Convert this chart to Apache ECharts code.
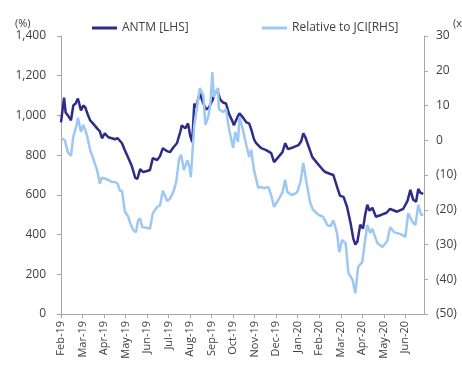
<!DOCTYPE html>
<html><head><meta charset="utf-8">
<script src="https://cdn.jsdelivr.net/npm/echarts@6/dist/echarts.min.js"></script>
<style>html,body{margin:0;padding:0;background:#fff}#c{width:462px;height:365px}</style>
</head><body><div id="c"></div>
<script>
const monthLabels = ['Feb-19','Mar-19','Apr-19','May-19','Jun-19','Jul-19','Aug-19','Sep-19','Oct-19','Nov-19','Dec-19','Jan-20','Feb-20','Mar-20','Apr-20','May-20','Jun-20'];
const axisStartDate = '2019-02-01';
const axisEndDate = '2020-06-27';
const leftAxisTicks = {min:0, max:1400, step:200};
const rightAxisTicks = {min:-50, max:30, step:10};

const antmDates = ['2019-02-01','2019-02-05','2019-02-07','2019-02-10','2019-02-14','2019-02-17','2019-02-20','2019-02-23','2019-02-27',
'2019-03-02','2019-03-05','2019-03-08','2019-03-12','2019-03-16','2019-03-22','2019-03-26','2019-03-29',
'2019-04-02','2019-04-07','2019-04-12','2019-04-16','2019-04-20','2019-04-26','2019-04-30',
'2019-05-05','2019-05-10','2019-05-15','2019-05-18','2019-05-22','2019-05-26',
'2019-06-01','2019-06-05','2019-06-09','2019-06-15','2019-06-19','2019-06-23','2019-06-29',
'2019-07-03','2019-07-08','2019-07-13','2019-07-18','2019-07-20','2019-07-25','2019-07-29',
'2019-08-01','2019-08-04','2019-08-07','2019-08-10','2019-08-13','2019-08-15','2019-08-20','2019-08-24','2019-08-28',
'2019-09-02','2019-09-06','2019-09-10','2019-09-13','2019-09-17','2019-09-21','2019-09-25','2019-09-30',
'2019-10-02','2019-10-07','2019-10-10','2019-10-15','2019-10-20','2019-10-24','2019-10-27','2019-10-31',
'2019-11-03','2019-11-10','2019-11-17','2019-11-24','2019-11-28',
'2019-12-04','2019-12-10','2019-12-14','2019-12-18','2019-12-26',
'2020-01-02','2020-01-06','2020-01-09','2020-01-12','2020-01-15','2020-01-19','2020-01-22','2020-01-29',
'2020-02-05','2020-02-09','2020-02-16','2020-02-20','2020-02-25','2020-02-29',
'2020-03-05','2020-03-10','2020-03-15','2020-03-19','2020-03-22','2020-03-25','2020-03-29',
'2020-04-02','2020-04-05','2020-04-08','2020-04-11','2020-04-15','2020-04-20','2020-04-28',
'2020-05-05','2020-05-10','2020-05-13','2020-05-20','2020-05-29',
'2020-06-04','2020-06-08','2020-06-12','2020-06-16','2020-06-19','2020-06-22','2020-06-26'];
const antmValues = [965,1090,1015,1000,975,1050,1060,1085,1025,
1050,1040,1010,975,960,935,920,885,
910,890,885,880,885,860,825,
785,745,685,680,730,715,
720,725,785,775,795,835,820,
815,840,860,920,950,935,960,
900,865,1060,1040,1090,1110,1060,1030,1040,
1075,1120,1115,1080,1065,1060,1010,970,
950,990,1010,990,965,960,930,880,
860,835,825,810,765,
790,815,860,830,840,
850,870,910,890,860,820,790,760,
730,715,705,700,640,595,
590,540,460,380,350,365,450,
430,500,550,520,535,490,500,
510,530,525,515,530,
570,625,575,565,630,610,605];

const jciDates = ['2019-02-01','2019-02-06','2019-02-10','2019-02-14','2019-02-17','2019-02-22','2019-02-23','2019-02-27',
'2019-03-02','2019-03-05','2019-03-08','2019-03-12','2019-03-16','2019-03-22','2019-03-26','2019-03-29',
'2019-04-02','2019-04-07','2019-04-12','2019-04-16','2019-04-20','2019-04-23','2019-04-26','2019-04-30',
'2019-05-05','2019-05-07','2019-05-12','2019-05-16','2019-05-19','2019-05-22','2019-05-25',
'2019-06-01','2019-06-05','2019-06-09','2019-06-15','2019-06-19','2019-06-23','2019-06-29',
'2019-07-03','2019-07-08','2019-07-12','2019-07-16','2019-07-19','2019-07-23','2019-07-28','2019-07-31',
'2019-08-02','2019-08-07','2019-08-11','2019-08-15','2019-08-20','2019-08-23','2019-08-27','2019-08-30',
'2019-09-02','2019-09-04','2019-09-07','2019-09-10','2019-09-11','2019-09-17','2019-09-21','2019-09-25',
'2019-10-01','2019-10-04','2019-10-08','2019-10-10','2019-10-15','2019-10-20','2019-10-24','2019-10-27','2019-10-31',
'2019-11-06','2019-11-10','2019-11-14','2019-11-20','2019-11-24','2019-11-28',
'2019-12-04','2019-12-10','2019-12-14','2019-12-17','2019-12-24','2019-12-31',
'2020-01-05','2020-01-09','2020-01-13','2020-01-19','2020-01-23','2020-01-31',
'2020-02-06','2020-02-12','2020-02-16','2020-02-20','2020-02-25','2020-02-28',
'2020-03-03','2020-03-08','2020-03-12','2020-03-18','2020-03-22','2020-03-26',
'2020-04-01','2020-04-05','2020-04-08','2020-04-12','2020-04-15','2020-04-22','2020-04-29',
'2020-05-06','2020-05-10','2020-05-16','2020-05-25',
'2020-06-01','2020-06-05','2020-06-11','2020-06-15','2020-06-19','2020-06-23','2020-06-26'];
const jciValues = [0.6,0,-3.5,-4.5,1,5,6.5,2.4,
4.4,3,0.9,-2.8,-5,-8.6,-12.5,-10.8,
-11,-11.4,-12,-12,-12.5,-14.5,-14.5,-20.5,
-22,-23.5,-25.8,-26.5,-23,-22.5,-25,
-25.2,-25.5,-21,-19.2,-18.8,-14.5,-17.5,
-16.8,-14.8,-12,-5.5,-4.2,-8.6,-5.7,-7.7,
-10.6,4.4,9.6,15,13,4.4,6.7,10,
19.6,12.4,14,15,9,8.1,9,3.5,
-2.2,2.4,-0.5,6.7,3,-1.4,-4.8,-2.8,-8.6,
-13.7,-13.4,-13.8,-13.4,-15.8,-19.2,
-17.2,-15,-11.4,-14.9,-15.8,-15,
-12,-6.5,-11.4,-18,-20,-21.5,
-22,-24.4,-24.8,-23,-26.7,-32.2,
-28.7,-29.6,-38.2,-40.2,-44,-36.5,
-35,-28.7,-24.4,-26.7,-25.5,-29.6,-30.7,
-29,-25,-26.5,-27,
-27.8,-21,-23.5,-24.4,-18.6,-21.5,-21.3];

function monthPos(s){
  const p = s.split('-').map(Number);
  const b = axisStartDate.split('-').map(Number);
  const dim = new Date(p[0], p[1], 0).getDate();
  return (p[0]-b[0])*12 + (p[1]-b[1]) + (p[2]-1)/dim;
}

const FONT = 'Open Sans';
const TXT = '#404040';
const AX = '#a6a6a6';
const DARK = '#2e2c86';
const LIGHT = '#9dc8f2';

const chart = echarts.init(document.getElementById('c'), null, {renderer:'canvas'});
chart.setOption({
  animation:false,
  backgroundColor:'#fff',
  textStyle:{fontFamily:FONT},
  grid:{left:61, right:38, top:36, bottom:51},
  legend:[
    {data:['ANTM [LHS]'], left:87, top:17, icon:'rect', itemWidth:25, itemHeight:3,
     textStyle:{fontFamily:FONT, fontSize:12, color:TXT}},
    {data:['Relative to JCI[RHS]'], left:257, top:17, icon:'rect', itemWidth:25, itemHeight:3,
     textStyle:{fontFamily:FONT, fontSize:12, color:TXT}}
  ],
  graphic:[
    {type:'text', left:15, top:18, style:{text:'(%)', font:'11px "Open Sans"', fill:TXT}},
    {type:'text', left:453, top:18, style:{text:'(x)', font:'11px "Open Sans"', fill:TXT}}
  ],
  xAxis:{
    type:'value', min:0, max:monthPos(axisEndDate), interval:1,
    axisLine:{show:true, lineStyle:{color:AX, width:1}},
    axisTick:{show:true, length:4, lineStyle:{color:AX}},
    splitLine:{show:false},
    axisLabel:{rotate:90, margin:7, fontSize:11, color:TXT, fontFamily:FONT,
      showMaxLabel:false,
      formatter:function(v){ return Number.isInteger(v) && monthLabels[v] ? monthLabels[v] : ''; }}
  },
  yAxis:[
    {type:'value', position:'left', min:leftAxisTicks.min, max:leftAxisTicks.max, interval:leftAxisTicks.step,
     axisLine:{show:true, lineStyle:{color:AX}}, axisTick:{show:true, length:4, lineStyle:{color:AX}},
     splitLine:{show:false},
     axisLabel:{margin:15, fontSize:12, color:TXT, fontFamily:FONT,
       formatter:function(v){ return v.toLocaleString('en-US'); }}},
    {type:'value', position:'right', min:rightAxisTicks.min, max:rightAxisTicks.max, interval:rightAxisTicks.step,
     axisLine:{show:true, lineStyle:{color:AX}}, axisTick:{show:true, length:4, lineStyle:{color:AX}},
     splitLine:{show:false},
     axisLabel:{margin:12, fontSize:12, color:TXT, fontFamily:FONT,
       formatter:function(v){ return v < 0 ? '(' + (-v) + ')' : String(v); }}}
  ],
  series:[
    {name:'ANTM [LHS]', type:'line', yAxisIndex:0, showSymbol:false, symbol:'none',
     data: antmDates.map(function(d,i){ return [monthPos(d), antmValues[i]]; }),
     lineStyle:{color:DARK, width:2.5}, itemStyle:{color:DARK}},
    {name:'Relative to JCI[RHS]', type:'line', yAxisIndex:1, showSymbol:false, symbol:'none',
     data: jciDates.map(function(d,i){ return [monthPos(d), jciValues[i]]; }),
     lineStyle:{color:LIGHT, width:2.5}, itemStyle:{color:LIGHT}}
  ]
});
</script></body></html>
